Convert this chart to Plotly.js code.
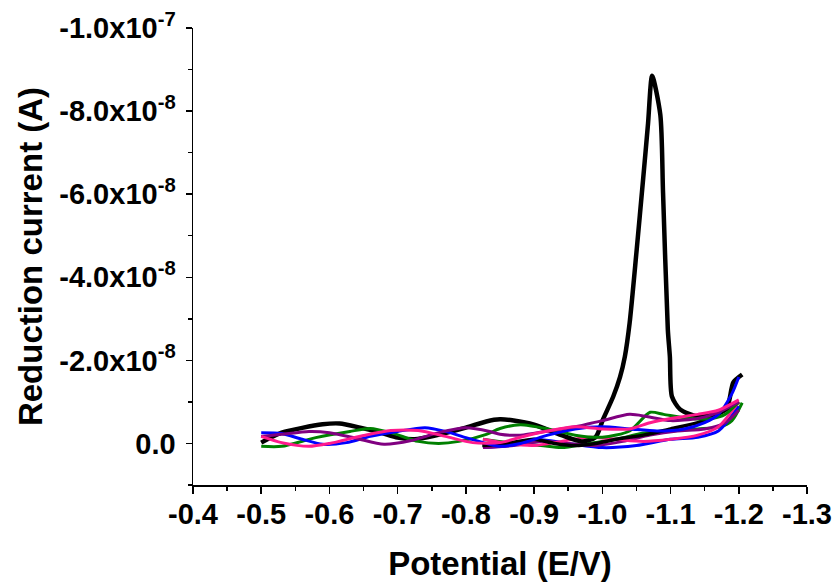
<!DOCTYPE html>
<html>
<head>
<meta charset="utf-8">
<script src="https://cdn.plot.ly/plotly-3.0.1.min.js"></script>
<style>html,body{margin:0;padding:0;background:#fff;}#chart{width:835px;height:584px;}</style>
</head>
<body>
<div id="chart"></div>
<script>
// Currents in units of 1e-8 A, potentials in V
const blackX1 = [-0.50,-0.53,-0.59,-0.615,-0.645,-0.675,-0.70,-0.725,-0.755,-0.80,-0.83,-0.85,-0.87,-0.90,-0.94,-0.97,-0.99,-1.001,-1.016,-1.026,-1.033,-1.040,-1.050,-1.060,-1.067,-1.073,-1.085,-1.089,-1.096,-1.099,-1.102,-1.114,-1.139,-1.162,-1.183,-1.192,-1.205];
const blackY1 = [-0.02,-0.26,-0.46,-0.48,-0.38,-0.26,-0.14,-0.10,-0.19,-0.38,-0.53,-0.58,-0.55,-0.45,-0.20,-0.05,-0.15,-0.58,-1.13,-1.60,-2.09,-2.90,-4.60,-6.40,-7.70,-8.85,-7.91,-6.03,-2.74,-2.09,-1.13,-0.82,-0.65,-0.70,-0.89,-1.47,-1.66];
const blackX2 = [-0.824,-0.86,-0.90,-0.93,-0.96,-0.99,-1.02,-1.06,-1.10,-1.14,-1.17,-1.20];
const blackY2 = [0.05,0.00,-0.10,0.00,0.05,0.00,-0.10,-0.20,-0.35,-0.50,-0.70,-1.00];

const greenX1 = [-0.50,-0.53,-0.58,-0.63,-0.66,-0.69,-0.73,-0.76,-0.79,-0.83,-0.85,-0.88,-0.92,-0.96,-1.00,-1.04,-1.07,-1.09,-1.13,-1.16,-1.18,-1.20];
const greenY1 = [0.07,0.07,-0.14,-0.29,-0.36,-0.26,-0.05,0.00,-0.05,-0.22,-0.36,-0.45,-0.35,-0.20,-0.15,-0.30,-0.75,-0.70,-0.60,-0.60,-0.70,-1.00];
const greenX2 = [-0.825,-0.87,-0.91,-0.94,-0.98,-1.02,-1.06,-1.10,-1.14,-1.173,-1.19,-1.205];
const greenY2 = [-0.10,0.00,0.05,0.10,0.00,-0.10,-0.25,-0.30,-0.35,-0.40,-0.55,-0.98];

const blueX1 = [-0.50,-0.53,-0.56,-0.59,-0.625,-0.66,-0.70,-0.74,-0.77,-0.80,-0.835,-0.85,-0.88,-0.92,-0.96,-1.00,-1.04,-1.08,-1.12,-1.15,-1.17,-1.19,-1.20];
const blueY1 = [-0.26,-0.24,-0.10,0.02,-0.02,-0.17,-0.29,-0.38,-0.29,-0.14,0.02,0.07,0.00,-0.20,-0.35,-0.40,-0.35,-0.30,-0.35,-0.50,-0.70,-1.20,-1.60];
const blueX2 = [-0.825,-0.86,-0.90,-0.95,-1.00,-1.05,-1.10,-1.14,-1.17,-1.20];
const blueY2 = [0.10,0.05,-0.10,0.00,0.10,0.05,-0.10,-0.15,-0.30,-0.90];

const purpleX1 = [-0.50,-0.53,-0.57,-0.60,-0.64,-0.68,-0.72,-0.76,-0.80,-0.835,-0.85,-0.88,-0.92,-0.96,-1.00,-1.04,-1.065,-1.10,-1.14,-1.17,-1.20];
const purpleY1 = [-0.17,-0.22,-0.29,-0.26,-0.12,0.02,-0.07,-0.26,-0.38,-0.29,-0.22,-0.20,-0.30,-0.40,-0.55,-0.70,-0.65,-0.55,-0.60,-0.75,-1.00];
const purpleX2 = [-0.825,-0.87,-0.91,-0.95,-0.99,-1.03,-1.07,-1.11,-1.15,-1.18,-1.20];
const purpleY2 = [0.10,0.05,-0.05,0.00,0.05,-0.05,-0.20,-0.30,-0.35,-0.50,-0.80];

const pinkX1 = [-0.50,-0.53,-0.57,-0.60,-0.65,-0.69,-0.73,-0.77,-0.81,-0.85,-0.88,-0.92,-0.96,-1.00,-1.04,-1.07,-1.10,-1.14,-1.17,-1.20];
const pinkY1 = [-0.17,-0.02,0.07,0.00,-0.19,-0.31,-0.31,-0.17,-0.02,-0.02,-0.15,-0.30,-0.40,-0.35,-0.35,-0.50,-0.60,-0.70,-0.80,-1.05];
const pinkX2 = [-0.825,-0.86,-0.90,-0.94,-0.98,-1.02,-1.06,-1.10,-1.14,-1.17,-1.20];
const pinkY2 = [-0.10,0.00,0.05,-0.05,-0.15,-0.10,-0.05,-0.10,-0.20,-0.40,-1.00];

const yTickVals = [0, -2e-8, -4e-8, -6e-8, -8e-8, -1e-7];
const yTickText = ['0.0','-2.0x10<sup>-8</sup>','-4.0x10<sup>-8</sup>','-6.0x10<sup>-8</sup>','-8.0x10<sup>-8</sup>','-1.0x10<sup>-7</sup>'];
const xTickVals = [-0.4,-0.5,-0.6,-0.7,-0.8,-0.9,-1.0,-1.1,-1.2,-1.3];
const xTickText = ['-0.4','-0.5','-0.6','-0.7','-0.8','-0.9','-1.0','-1.1','-1.2','-1.3'];

const scale = v => v.map(a => a * 1e-8);
const bold = arr => arr.map(s => '<b>' + s + '</b>');
function tr(x, y, color, width) {
  return {x: x, y: scale(y), type: 'scatter', mode: 'lines',
    line: {color: color, width: width, shape: 'spline', smoothing: 0.7},
    hoverinfo: 'skip', showlegend: false};
}
const data = [
  tr(greenX2, greenY2, '#008000', 3),
  tr(blueX2, blueY2, '#0000FF', 3),
  tr(purpleX2, purpleY2, '#800080', 3),
  tr(pinkX2, pinkY2, '#FF1A8C', 3),
  tr(blackX2, blackY2, '#000000', 3.5),
  tr(blackX1, blackY1, '#000000', 4.5),
  tr(greenX1, greenY1, '#008000', 3),
  tr(blueX1, blueY1, '#0000FF', 3),
  tr(purpleX1, purpleY1, '#800080', 3),
  tr(pinkX1, pinkY1, '#FF1A8C', 3)
];
const FAM = 'Liberation Sans, Arial, sans-serif';
const tickFont = {family: FAM, size: 29, color: '#000'};
const layout = {
  width: 835, height: 584,
  margin: {l: 193, r: 28, t: 28, b: 99, pad: 0},
  paper_bgcolor: '#fff', plot_bgcolor: '#fff',
  showlegend: false,
  xaxis: {
    range: [-0.4, -1.3], tickmode: 'array', tickvals: xTickVals, ticktext: bold(xTickText),
    showline: true, linecolor: '#000', linewidth: 1.5, mirror: false,
    ticks: 'outside', ticklen: 7, tickwidth: 1.5, tickcolor: '#000',
    minor: {tickmode: 'linear', tick0: -0.4, dtick: 0.05, ticks: 'outside', ticklen: 4, tickwidth: 1.5, tickcolor: '#000', showgrid: false},
    showgrid: false, zeroline: false, tickfont: tickFont, ticklabelstandoff: -4,
    title: {text: '<b>Potential (E/V)</b>', font: {family: FAM, size: 33, color: '#000'}, standoff: 22},
    automargin: false
  },
  yaxis: {
    range: [1e-8, -1e-7], tickmode: 'array', tickvals: yTickVals, ticktext: bold(yTickText),
    showline: true, linecolor: '#000', linewidth: 1.5, mirror: false,
    ticks: 'outside', ticklen: 6, tickwidth: 1.5, tickcolor: '#000',
    minor: {tickmode: 'linear', tick0: 0, dtick: 1e-8, ticks: 'outside', ticklen: 4, tickwidth: 1.5, tickcolor: '#000', showgrid: false},
    showgrid: false, zeroline: false, tickfont: tickFont, ticklabelstandoff: 4,
    title: {text: '<b>Reduction current (A)</b>', font: {family: FAM, size: 33, color: '#000'}, standoff: 6},
    automargin: false
  }
};
Plotly.newPlot('chart', data, layout, {displayModeBar: false, staticPlot: true});
</script>
</body>
</html>
